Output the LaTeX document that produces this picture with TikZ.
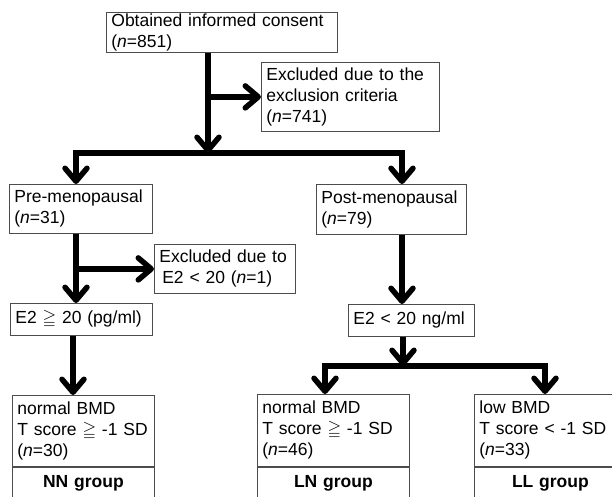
\documentclass[tikz,border=0pt]{standalone}
\usepackage{amssymb}
\usepackage{fontspec}
\setmainfont{Liberation Sans}
\usetikzlibrary{arrows.meta, positioning, calc}
\tikzstyle{box}  = [rectangle, draw=black!70, line width=0.8pt, anchor=north west,
                    align=left, inner xsep=5pt, inner ysep=0pt,
                    font=\fontsize{17.5}{21}\selectfont]
\tikzstyle{grp}  = [box, align=center, font=\fontsize{17.5}{21}\selectfont\bfseries]
\tikzstyle{flow} = [line width=5.5pt, -{Straight Barb[length=13pt,width=22pt,round]}]

\begin{document}
\begin{tikzpicture}[x=1pt, y=-1pt]
  \useasboundingbox (0,0) rectangle (612,496);

  \node[box, text width=221pt, minimum height=40pt] (consent) at (106,12)
      {Obtained informed consent\\(\textit{n}=851)};
  \node[box, text width=168pt, minimum height=69pt] (excl1) at (261,62)
      {Excluded due to the\\exclusion criteria\\(\textit{n}=741)};

  \node[box, text width=133pt, minimum height=49pt] (pre) at (9,184)
      {Pre-menopausal\\(\textit{n}=31)};
  \node[box, text width=140pt, minimum height=50pt] (post) at (316,184)
      {Post-menopausal\\(\textit{n}=79)};
  \node[box, text width=131pt, minimum height=49pt] (excl2) at (154,244)
      {Excluded due to\\\,E2 < 20 (\textit{n}=1)};

  \node[box, text width=132pt, minimum height=32pt] (e2hi) at (10,303)
      {E2 $\geqq$ 20 (pg/ml)};
  \node[box, text width=116pt, minimum height=32pt] (e2lo) at (348,304)
      {E2 < 20 ng/ml};

  % groups
  \node[box, text width=132pt, minimum height=71pt] (nn) at (12,395)
      {normal BMD\\T score $\geqq$ -1 SD\\(\textit{n}=30)};
  \node[grp, text width=132pt, minimum height=32pt] (nnlab) at (nn.south west)
      {NN group};
  \node[box, text width=142pt, minimum height=72pt] (ln) at (257,394)
      {normal BMD\\T score $\geqq$ -1 SD\\(\textit{n}=46)};
  \node[grp, text width=142pt, minimum height=32pt] (lnlab) at (ln.south west)
      {LN group};
  \node[box, text width=142pt, minimum height=72pt] (ll) at (474,394)
      {low BMD\\T score < -1 SD\\(\textit{n}=33)};
  \node[grp, text width=142pt, minimum height=32pt] (lllab) at (ll.south west)
      {LL group};

  \coordinate (j1) at (208,153);
  \coordinate (j2) at (403,366);

  \draw[flow] (consent.south -| j1) -- (j1);
  \draw[flow] (excl1.west -| j1) -- (excl1.west);
  \draw[flow] (j1) -| ([xshift=67pt]pre.north west);
  \draw[flow] (j1) -| ([xshift=86pt]post.north west);

  \draw[flow] ([xshift=67pt]pre.south west) coordinate (p1) -- (p1 |- e2hi.north);
  \draw[flow] (p1 |- excl2.west) -- (excl2.west);
  \draw[flow] ([xshift=63pt]e2hi.south west) coordinate (p2) -- (p2 |- nn.north);

  \draw[flow] ([xshift=86pt]post.south west) coordinate (p3) -- (p3 |- e2lo.north);
  \draw[flow] (e2lo.south -| j2) -- (j2);
  \draw[flow] (j2) -| ([xshift=68pt]ln.north west);
  \draw[flow] (j2) -| ([xshift=71pt]ll.north west);

\end{tikzpicture}
\end{document}
